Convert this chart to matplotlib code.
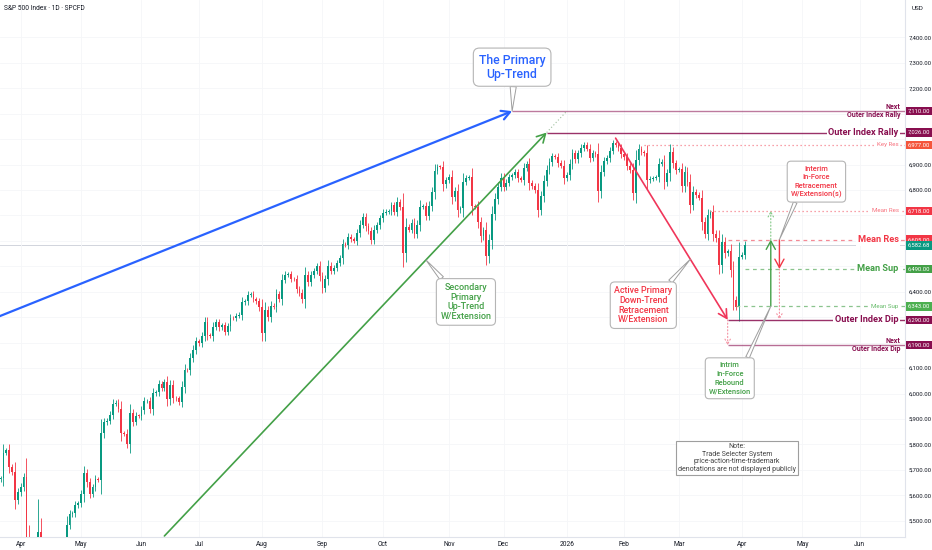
import numpy as np
import pandas as pd
import matplotlib
matplotlib.use("Agg")
import matplotlib.pyplot as plt

plt.rcParams["font.family"] = ["Roboto", "DejaVu Sans"]

# ── Datos: cierres diarios S&P 500 ──────────────────────────────────────────
FIRST_OPEN = 5646.0
closes_mar_2025 = [5662.89, 5667.56, 5767.57, 5776.65, 5712.20, 5693.31, 5580.94, 5611.85]
closes_apr_2025 = [5633.07, 5670.97, 5396.52, 5074.08, 5062.25, 4982.77, 5456.90, 5268.05,
                   5363.36, 5405.97, 5396.63, 5275.70, 5282.70, 5158.20, 5287.76, 5375.86,
                   5484.77, 5525.21, 5528.75, 5560.83, 5569.06]
closes_may_2025 = [5604.14, 5686.67, 5650.38, 5606.91, 5631.28, 5663.94, 5659.91, 5844.19,
                   5886.55, 5892.58, 5916.93, 5958.38, 5963.60, 5940.46, 5844.61, 5842.01,
                   5802.82, 5921.54, 5888.55, 5912.17, 5911.69]
closes_jun_2025 = [5935.94, 5970.37, 5970.81, 5939.30, 6000.36, 6005.88, 6038.81, 6022.24,
                   6045.26, 5976.97, 6033.11, 5982.72, 5980.87, 5967.84, 6025.17, 6092.18,
                   6092.16, 6141.02, 6173.07, 6204.95]
closes_jul_2025 = [6198.01, 6227.42, 6279.35, 6229.98, 6225.52, 6263.26, 6280.46, 6259.75,
                   6268.56, 6243.76, 6263.70, 6297.36, 6296.79, 6305.60, 6309.62, 6358.91,
                   6363.35, 6388.64, 6389.77, 6370.86, 6362.90, 6339.39]
closes_aug_2025 = [6238.01, 6329.94, 6299.19, 6345.06, 6340.00, 6389.45, 6373.45, 6445.76,
                   6466.58, 6468.54, 6449.80, 6449.15, 6411.37, 6395.78, 6370.17, 6466.91,
                   6439.32, 6465.94, 6481.40, 6501.86, 6460.26]
closes_sep_2025 = [6415.54, 6448.26, 6502.08, 6481.50, 6495.15, 6512.61, 6532.04, 6587.47,
                   6584.29, 6615.28, 6606.76, 6600.35, 6631.96, 6664.36, 6693.75, 6656.92,
                   6637.97, 6604.72, 6643.70, 6661.21, 6688.46]
closes_oct_2025 = [6711.20, 6715.35, 6715.79, 6740.28, 6714.59, 6753.72, 6735.11, 6552.51,
                   6654.72, 6644.31, 6671.06, 6629.07, 6664.01, 6735.13, 6735.35, 6699.40,
                   6738.44, 6791.69, 6875.16, 6890.89, 6890.59, 6822.34, 6840.20]
closes_nov_2025 = [6851.97, 6771.55, 6796.29, 6720.32, 6728.80, 6832.43, 6846.61, 6850.92,
                   6737.49, 6734.11, 6672.41, 6617.32, 6642.16, 6538.76, 6602.99, 6705.12,
                   6765.88, 6812.61, 6849.09]
closes_dec_2025 = [6812.63, 6829.37, 6849.72, 6857.12, 6870.40, 6846.51, 6840.51, 6886.68,
                   6901.00, 6827.41, 6816.51, 6800.26, 6721.43, 6774.76, 6834.50, 6878.49,
                   6909.79, 6932.05, 6929.94, 6905.74, 6896.24, 6845.50]
closes_jan_2026 = [6858, 6902, 6944, 6921, 6944, 6966, 6977, 6963, 6926, 6944,
                   6940, 6797, 6872, 6913, 6926, 6955, 6983, 6978, 6965, 6940]
closes_feb_2026 = [6930, 6895, 6878, 6790, 6918, 6963, 6948, 6944, 6839, 6845,
                   6848, 6852, 6904, 6911, 6832, 6865, 6950, 6905, 6878]
closes_mar_2026 = [6881, 6815, 6872, 6832, 6741, 6793, 6780, 6770, 6675, 6629, 6701,
                   6712, 6629, 6610, 6505, 6597, 6552, 6560, 6485, 6367, 6341, 6538]
closes_apr_2026 = [6545, 6582.68]

holidays = ["2025-04-18", "2025-05-26", "2025-06-19", "2025-07-04", "2025-09-01",
            "2025-11-27", "2025-12-25", "2026-01-01", "2026-01-19", "2026-02-16",
            "2026-04-03", "2026-05-25", "2026-06-19"]

# niveles marcados a la derecha
level_prices = [7110, 7026, 6977, 6718, 6605, 6490, 6343, 6290, 6190]
level_labels = ["Outer Index Rally", "Outer Index Rally", "Key Res", "Mean Res", "Mean Res",
                "Mean Sup", "Mean Sup", "Outer Index Dip", "Outer Index Dip"]
level_starts = ["2025-12-04", "2025-12-22", "2026-02-11", "2026-03-17", "2026-03-25",
                "2026-04-02", "2026-03-30", "2026-03-25", "2026-03-25"]
last_price = 6582.68

month_ticks = ["2025-04-01", "2025-05-01", "2025-06-02", "2025-07-01", "2025-08-01",
               "2025-09-02", "2025-10-01", "2025-11-03", "2025-12-01", "2026-01-02",
               "2026-02-02", "2026-03-02", "2026-04-01", "2026-05-01", "2026-06-01"]
month_labels = ["Apr", "May", "Jun", "Jul", "Aug", "Sep", "Oct", "Nov", "Dec", "2026",
                "Feb", "Mar", "Apr", "May", "Jun"]

# ── Colores ──────────────────────────────────────────────────────────────────
UP, DOWN = "#089981", "#f23645"
BLUE = "#2962ff"
GREEN = "#43a047"
RED = "#f23645"
MAROON = "#880e4f"
TXT = "#131722"

closes = np.array(closes_mar_2025 + closes_apr_2025 + closes_may_2025 + closes_jun_2025
                  + closes_jul_2025 + closes_aug_2025 + closes_sep_2025 + closes_oct_2025
                  + closes_nov_2025 + closes_dec_2025 + closes_jan_2026 + closes_feb_2026
                  + closes_mar_2026 + closes_apr_2026, dtype=float)

cal = pd.bdate_range("2025-03-20", "2026-06-30")
cal = cal[~cal.isin(pd.to_datetime(holidays))]


def bx(day):
    return cal.get_loc(pd.Timestamp(day))


x = np.arange(len(closes))
opens = np.r_[FIRST_OPEN, closes[:-1]]
body = np.abs(closes - opens)
wick = 0.25 * body + 8
highs = np.maximum(opens, closes) + wick
lows = np.minimum(opens, closes) - wick
cols = np.where(closes >= opens, UP, DOWN)

fig = plt.figure(figsize=(9.32, 5.5), dpi=100)
ax = fig.add_axes([0, 13 / 550, 905 / 932, 537 / 550])
ax.set_xlim(bx("2025-04-01") - 7.2, bx("2025-04-01") + 307.7)
ax.set_ylim(5436, 7547)

# escala de precios: se ocultan las etiquetas tapadas por las marcas de nivel
tags = level_prices + [last_price]
yt = np.arange(5500, 7401, 100)
ax.set_yticks(yt)
ax.set_yticklabels(["" if min(abs(v - t) for t in tags) < 30 else f"{v:,.2f}" for v in yt])
ax.set_xticks([bx(d) for d in month_ticks])
ax.set_xticklabels(month_labels)
ax.grid(color="#f5f6f8", lw=0.6, zorder=0)
ax.yaxis.tick_right()
ax.tick_params(axis="y", length=0, pad=2.5, labelsize=4.3, labelcolor=TXT)
ax.tick_params(axis="x", length=0, pad=3, labelsize=4.8, labelcolor=TXT)
for s in ["top", "left"]:
    ax.spines[s].set_visible(False)
for s in ["right", "bottom"]:
    ax.spines[s].set_color("#e0e3eb")
    ax.spines[s].set_linewidth(0.8)

# velas
ax.vlines(x, lows, highs, colors=cols, lw=0.6, zorder=2)
ax.bar(x, np.maximum(body, 2), bottom=np.minimum(opens, closes), width=0.62,
       color=cols, lw=0, zorder=3)

# línea de último precio
ax.axhline(last_price, color="#d1d4dc", lw=0.7, zorder=1)

# ── Tendencias ───────────────────────────────────────────────────────────────
def arrow(p0, p1, color, lw=1.2, ls="-", head=0.6):
    ax.annotate("", xy=p1, xytext=p0,
                arrowprops=dict(arrowstyle=f"->,head_length={head},head_width={head * 0.55}",
                                color=color, lw=lw, ls=ls, shrinkA=0, shrinkB=0), zorder=5)


blue_start = (bx("2025-03-20"), 6301)
blue_tip = (bx("2025-12-04"), 7110)
green_start = (bx("2025-06-12"), 5440)
green_tip = (bx("2025-12-22"), 7026)
red_start = (bx("2026-01-28"), 7004)
red_tip = (bx("2026-03-25"), 6290)

arrow(blue_start, blue_tip, BLUE, lw=1.6)
arrow(green_start, green_tip, GREEN, lw=1.2)
ax.plot([green_tip[0], bx("2026-01-02")], [7026, 7110], color="#9fbf9f", lw=0.8,
        ls=(0, (1, 2)), zorder=4)
arrow(red_start, red_tip, "#f0365a", lw=1.2)
arrow((bx("2026-03-25"), 6290), (bx("2026-03-25"), 6190), "#f48fa0", lw=0.8,
      ls=(0, (1, 2)), head=0.35)

# flechas verticales de rebote / retroceso
gx, rx = bx("2026-04-16"), bx("2026-04-21")
arrow((gx, 6343), (gx, 6605), GREEN, lw=1.0)
arrow((gx, 6605), (gx, 6718), "#81c784", lw=0.8, ls=(0, (1, 2)), head=0.35)
arrow((rx, 6605), (rx, 6490), RED, lw=1.0)
arrow((rx, 6490), (rx, 6290), "#f48fa0", lw=0.8, ls=(0, (1, 2)), head=0.35)

# ── Niveles ──────────────────────────────────────────────────────────────────
styles = [
    dict(c=MAROON, ls="-", lw=1.0, a=0.55, tc=MAROON, fs=5.0, nxt=True, tag=MAROON),
    dict(c=MAROON, ls="-", lw=1.0, a=0.85, tc=MAROON, fs=6.6, nxt=False, tag=MAROON),
    dict(c="#f7838f", ls=(0, (1, 2.2)), lw=0.9, a=1, tc="#f7727e", fs=4.4, nxt=False, tag="#f4553b"),
    dict(c="#f7838f", ls=(0, (1, 2.2)), lw=0.9, a=1, tc="#f7727e", fs=4.4, nxt=False, tag=RED),
    dict(c="#f48a96", ls=(0, (3, 3)), lw=0.9, a=1, tc=RED, fs=6.6, nxt=False, tag=RED),
    dict(c="#8bc48e", ls=(0, (3, 3)), lw=0.9, a=1, tc=GREEN, fs=6.6, nxt=False, tag=GREEN),
    dict(c="#8bc48e", ls=(0, (3, 3)), lw=0.9, a=1, tc="#66bb6a", fs=4.4, nxt=False, tag="#4caf50"),
    dict(c=MAROON, ls="-", lw=1.0, a=0.85, tc=MAROON, fs=6.6, nxt=False, tag=MAROON),
    dict(c=MAROON, ls="-", lw=1.0, a=0.6, tc=MAROON, fs=5.0, nxt=True, tag=MAROON),
]
ytrans = ax.get_yaxis_transform()
xr = ax.get_xlim()[1]
for price, label, start, st in zip(level_prices, level_labels, level_starts, styles):
    ax.plot([bx(start), xr], [price, price], color=st["c"], ls=st["ls"], lw=st["lw"],
            alpha=st["a"], zorder=4, solid_capstyle="butt")
    if st["nxt"]:
        ax.text(0.995, price, "Next", transform=ytrans, ha="right", va="bottom",
                color=st["tc"], fontsize=st["fs"], fontweight="bold", zorder=6)
        ax.text(0.995, price, label, transform=ytrans, ha="right", va="top",
                color=st["tc"], fontsize=st["fs"], fontweight="bold", zorder=6)
    else:
        ax.text(0.993, price, label, transform=ytrans, ha="right", va="center",
                color=st["tc"], fontsize=st["fs"], fontweight="bold" if st["fs"] > 6 else "normal",
                zorder=6, bbox=dict(boxstyle="square,pad=0.2", fc="white", ec="none"))
    ax.text(1.003, price, f"{price:,.2f}", transform=ytrans, ha="left", va="center",
            color="white", fontsize=4.2, zorder=10, clip_on=False,
            bbox=dict(boxstyle="square,pad=0.3", fc=st["tag"], ec="none"))
ax.text(1.003, last_price, f"{last_price:,.2f}", transform=ytrans, ha="left", va="center",
        color="white", fontsize=4.2, zorder=10, clip_on=False,
        bbox=dict(boxstyle="square,pad=0.3", fc=UP, ec="none"))

# ── Llamadas (callouts) ──────────────────────────────────────────────────────
def callout(text, xy, off, color, fs, relpos, weight="normal"):
    ax.annotate(text, xy=xy, xytext=off, textcoords="offset pixels",
                ha="center", va="center", color=color, fontsize=fs, linespacing=1.12,
                fontweight=weight, zorder=8,
                bbox=dict(boxstyle="round,pad=0.45,rounding_size=0.5", fc="white",
                          ec="#b5b5b5", lw=0.8),
                arrowprops=dict(arrowstyle="wedge,tail_width=0.5,shrink_factor=0.5",
                                fc="white", ec="#9e9e9e", lw=0.7, relpos=relpos,
                                shrinkA=0, shrinkB=0))


def on_line(p0, p1, day):
    return (bx(day), float(np.interp(bx(day), [p0[0], p1[0]], [p0[1], p1[1]])))


callout("The Primary\nUp-Trend", blue_tip, (0, 44), BLUE, 8.8, (0.52, 0.0), "medium")
callout("Secondary\nPrimary\nUp-Trend\nW/Extension", on_line(green_start, green_tip, "2025-10-22"),
        (40, -42), GREEN, 6.5, (0.1, 1.0), "medium")
callout("Active Primary\nDown-Trend\nRetracement\nW/Extension", on_line(red_start, red_tip, "2026-03-06"),
        (-47, -46), RED, 6.4, (0.9, 1.0), "medium")
callout("Interim\nIn-Force\nRetracement\nW/Extension(s)", (rx, 6605), (37, 58), RED, 5.4, (0.12, 0.0), "medium")
callout("Intrim\nIn-Force\nRebound\nW/Extension", (gx, 6343), (-41, -72), GREEN, 5.4, (0.88, 1.0), "medium")

ax.text(0.8144, 0.147, "Note:\nTrade Selecter System\nprice-action-time-trademark\n"
        "denotations are not displayed publicly", transform=ax.transAxes, ha="center",
        va="center", fontsize=5.0, color="#444444", linespacing=1.1, zorder=8,
        bbox=dict(boxstyle="square,pad=0.35", fc="white", ec="#9e9e9e", lw=0.8))

fig.text(4 / 932, 1 - 8 / 550, "S&P 500 Index · 1D · SPCFD", fontsize=4.8, color=TXT,
         va="center")
fig.text(912 / 932, 1 - 8 / 550, "USD", fontsize=4.6, color=TXT, va="center")

fig.savefig("out.png", dpi=100)
